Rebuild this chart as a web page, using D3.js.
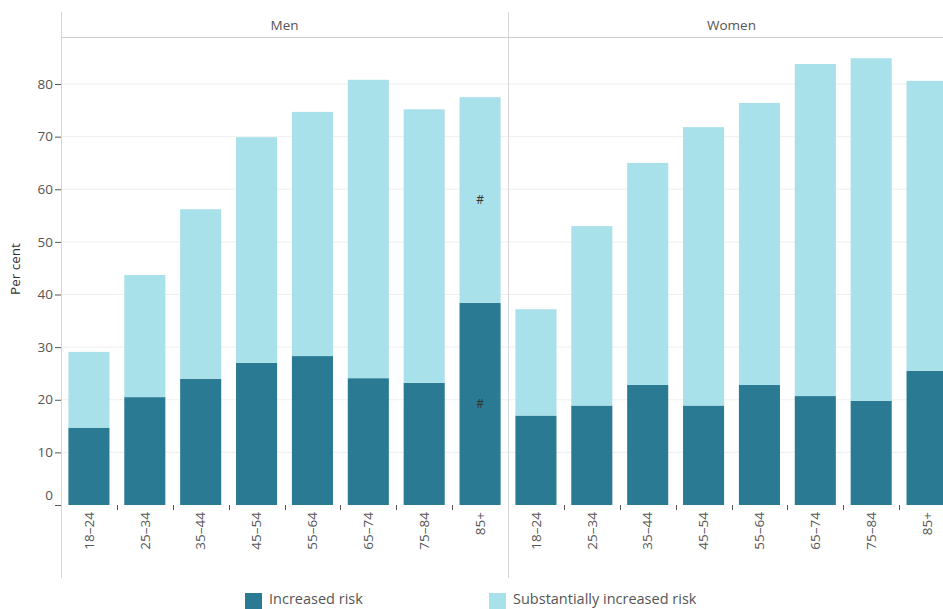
<!DOCTYPE html>
<html><head><meta charset="utf-8">
<script src="https://cdn.jsdelivr.net/npm/d3@7"></script>
<style>body{margin:0;background:#fff;} text{font-family:"Open Sans",Lato,sans-serif;}</style>
</head><body>
<svg id="c" width="943" height="609"></svg>
<script>
const panels = ["Men", "Women"];
const ageGroups = ["18–24","25–34","35–44","45–54","55–64","65–74","75–84","85+"];
const series = ["Increased risk", "Substantially increased risk"];
const menIncreased = [14.7, 20.5, 24.0, 27.0, 28.3, 24.1, 23.2, 38.4];
const menSubstantial = [14.4, 23.2, 32.2, 42.9, 46.4, 56.7, 52.0, 39.1];
const womenIncreased = [17.0, 18.9, 22.8, 18.9, 22.8, 20.7, 19.8, 25.5];
const womenSubstantial = [20.2, 34.1, 42.2, 52.9, 53.6, 63.1, 65.1, 55.1];
const yTicks = [0,10,20,30,40,50,60,70,80];
const flagged = [{panel:"Men", age:"85+", series:0, mark:"#"},{panel:"Men", age:"85+", series:1, mark:"#"}];
const colors = ["#2a7a93", "#a9e1ea"];

const data = {
  Men: ageGroups.map((a,i)=>({age:a, v:[menIncreased[i], menSubstantial[i]]})),
  Women: ageGroups.map((a,i)=>({age:a, v:[womenIncreased[i], womenSubstantial[i]]}))
};

const svg = d3.select("#c");
const left = 61, panelW = 447, headerY = 37, base = 505;
const y = d3.scaleLinear().domain([0, 80]).range([base, 84]);
const px = d3.scaleBand().domain(panels).range([left, left + panelW*2]);

// gridlines
svg.append("g").selectAll("line").data(yTicks.filter(d=>d>0)).join("line")
  .attr("x1", left).attr("x2", 943).attr("y1", d=>y(d)).attr("y2", d=>y(d))
  .attr("stroke", "#efefef").attr("stroke-width", 1);

// y axis ticks & labels
const ya = svg.append("g");
ya.selectAll("line").data(yTicks).join("line")
  .attr("x1", left-6).attr("x2", left).attr("y1", d=>y(d)+0.5).attr("y2", d=>y(d)+0.5)
  .attr("stroke", "#555");
ya.selectAll("text").data(yTicks).join("text")
  .attr("x", left-8).attr("y", d=> d===0 ? y(d)-10 : y(d))
  .attr("dy", "0.35em").attr("text-anchor", "end")
  .attr("font-size", 13.5).attr("fill", "#555").text(d=>d);

svg.append("text").attr("transform", `translate(20,269) rotate(-90)`)
  .attr("text-anchor", "middle").attr("font-size", 13.5).attr("fill", "#333").text("Per cent");

// structure lines
svg.append("line").attr("x1", left+0.5).attr("x2", left+0.5).attr("y1", 12).attr("y2", 578).attr("stroke", "#d6d6d6");
svg.append("line").attr("x1", px("Women")+0.5).attr("x2", px("Women")+0.5).attr("y1", 12).attr("y2", 578).attr("stroke", "#d6d6d6");
svg.append("line").attr("x1", left).attr("x2", 943).attr("y1", headerY+0.5).attr("y2", headerY+0.5).attr("stroke", "#cfcfcf");

panels.forEach(p => {
  const x0 = px(p);
  const x = d3.scaleBand().domain(ageGroups).range([x0, x0 + panelW]).paddingInner(0.265).paddingOuter(0.1325);
  const g = svg.append("g");
  g.append("text").attr("x", x0 + panelW/2).attr("y", 30).attr("text-anchor", "middle")
    .attr("font-size", 13.5).attr("fill", "#555").text(p);
  const stack = d3.stack().keys([0,1]).value((d,k)=>d.v[k])(data[p]);
  stack.forEach((layer, k) => {
    g.append("g").selectAll("rect").data(layer).join("rect")
      .attr("x", d=>x(d.data.age)).attr("width", x.bandwidth())
      .attr("y", d=>y(d[1])).attr("height", d=>y(d[0]) - y(d[1]))
      .attr("fill", colors[k]);
  });
  flagged.filter(f=>f.panel===p).forEach(f => {
    const d = stack[f.series].find(s=>s.data.age===f.age);
    g.append("text").attr("x", x(f.age)+x.bandwidth()/2).attr("y", (y(d[0])+y(d[1]))/2)
      .attr("dy","0.35em").attr("text-anchor","middle").attr("font-size", 12).attr("fill","#333").text(f.mark);
  });
  const bounds = ageGroups.slice(1).map(a => x(a) - x.step()*x.paddingInner()/2);
  g.append("g").selectAll("line").data(bounds).join("line")
    .attr("x1", d=>Math.round(d)+0.5).attr("x2", d=>Math.round(d)+0.5).attr("y1", base).attr("y2", base+5)
    .attr("stroke", "#555");
  g.append("g").selectAll("text").data(ageGroups).join("text")
    .attr("transform", d=>`translate(${x(d)+x.bandwidth()/2},${base+7}) rotate(-90)`)
    .attr("text-anchor", "end").attr("dy", "0.35em")
    .attr("font-size", 13.5).attr("fill", "#555").text(d=>d);
});

// legend
const legX = [245, 489];
series.forEach((s,i) => {
  svg.append("rect").attr("x", legX[i]).attr("y", 593).attr("width", 17).attr("height", 16).attr("fill", colors[i]);
  svg.append("text").attr("x", legX[i]+24).attr("y", 604).attr("font-size", 14.5).attr("fill", "#555").text(s);
});
</script>
</body></html>
